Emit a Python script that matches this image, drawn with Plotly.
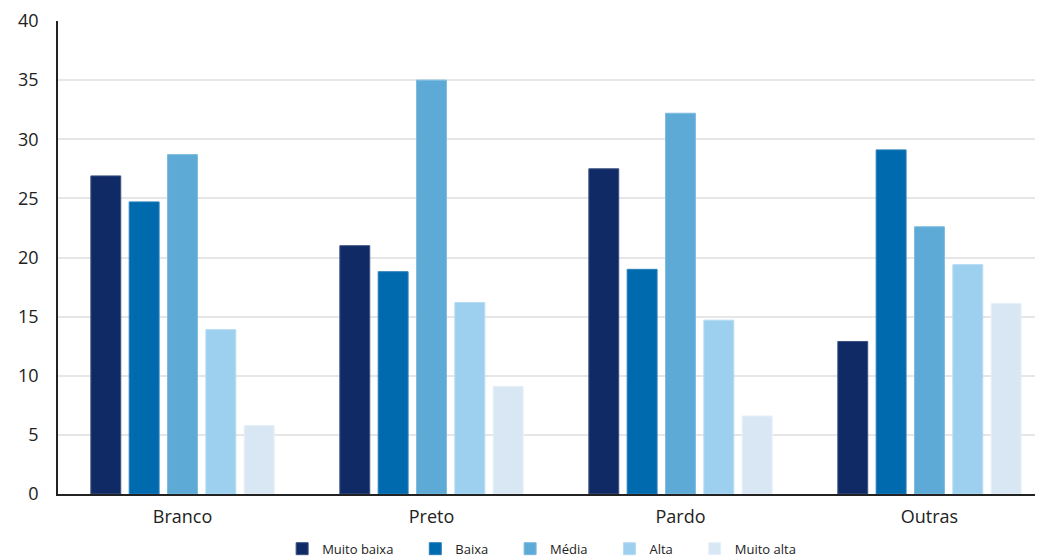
import plotly.graph_objects as go

categories = ["Branco", "Preto", "Pardo", "Outras"]
series_names = ["Muito baixa", "Baixa", "Média", "Alta", "Muito alta"]
muito_baixa = [26.9, 21.0, 27.5, 12.9]
baixa = [24.7, 18.8, 19.0, 29.1]
media = [28.7, 35.0, 32.2, 22.6]
alta = [13.9, 16.2, 14.7, 19.4]
muito_alta = [5.8, 9.1, 6.6, 16.1]
y_ticks = [0, 5, 10, 15, 20, 25, 30, 35, 40]

colors = ["#102a66", "#006aae", "#5eaad6", "#9dd0ee", "#d8e7f3"]
borders = ["#3c5283", "#2a80bb", "#7dbbe0", "#b5dcf3", "#e6f0f8"]
values = [muito_baixa, baixa, media, alta, muito_alta]

pad = "\u00a0" * 5
fig = go.Figure()
for i, (name, vals, c, b) in enumerate(zip(series_names, values, colors, borders)):
    label = name + (pad if i < len(series_names) - 1 else "")
    fig.add_trace(go.Bar(
        x=categories, y=vals, name=label,
        marker=dict(color=c, line=dict(color=b, width=1)),
    ))

fig.update_layout(
    width=1035, height=550,
    margin=dict(l=50, r=0, t=13, b=64, autoexpand=False),
    paper_bgcolor="white", plot_bgcolor="white",
    barmode="group", bargap=0.23, bargroupgap=0.22,
    font=dict(family="Open Sans", color="#222222"),
    legend=dict(orientation="h", x=0.491, xanchor="center", y=-0.084, yanchor="top",
                font=dict(size=13, color="#222222"), traceorder="normal",
                itemwidth=30),
    showlegend=True,
)
fig.update_xaxes(
    range=[-0.5, 3.456], showline=True, linecolor="#222222", linewidth=1.5,
    showgrid=False, ticks="", tickfont=dict(size=18), ticklabelstandoff=6,
    automargin=False,
)
fig.update_yaxes(
    range=[0, 40], tickvals=y_ticks, showline=True, linecolor="#222222", linewidth=1.5,
    showgrid=True, gridcolor="#e6e6e6", gridwidth=1.5, ticks="", tickfont=dict(size=18),
    ticklabelstandoff=14, zeroline=False, automargin=False,
)
fig.write_html("out.html")
